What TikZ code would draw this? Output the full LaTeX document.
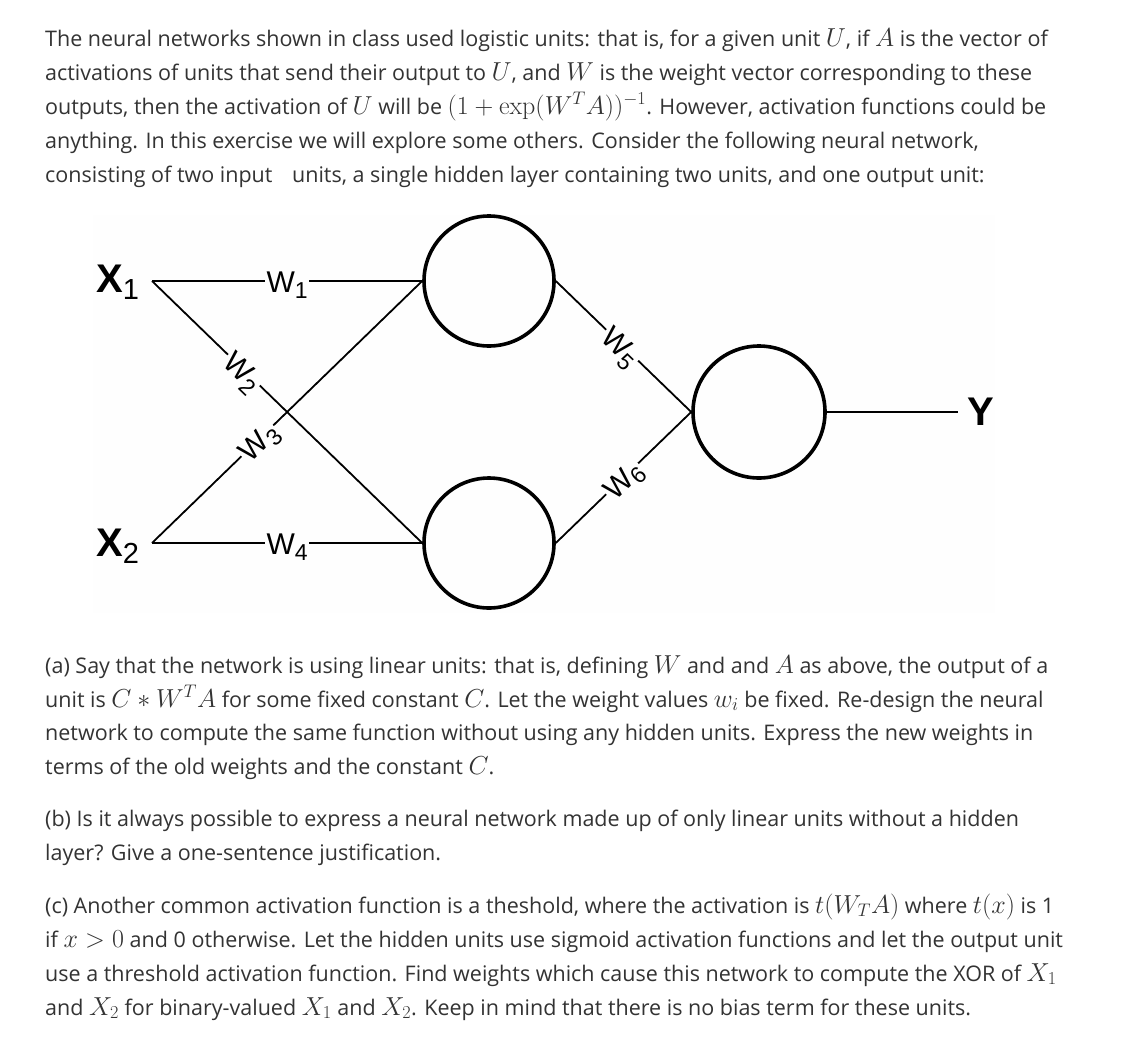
\RequirePackage{fix-cm}
\documentclass[tikz,border=0pt]{standalone}
\usepackage[no-math]{fontspec}
\setmainfont{Open Sans}
\newfontfamily\diagfont{Liberation Sans}
\usetikzlibrary{positioning}
\definecolor{txtgray}{RGB}{51,51,51}
\definecolor{diagbg}{RGB}{254,254,254}
\newcommand{\mth}[1]{{\fontsize{26}{26}\selectfont$#1$}}
\newcommand{\wsub}[1]{W\raisebox{-6pt}{\fontsize{23}{23}\selectfont #1}}
\newcommand{\xsub}[2]{{\bfseries #1}\raisebox{-7pt}{\fontsize{29}{29}\selectfont #2}}

\begin{document}
\begin{tikzpicture}[x=1pt, y=-1pt,
    textline/.style={anchor=base west, inner sep=0pt, text=txtgray, font=\fontsize{21.5}{24}\selectfont},
    unit/.style={circle, draw, line width=3.6pt, minimum size=130pt, inner sep=0pt},
    link/.style={line width=1.8pt},
    weight/.style={sloped, fill=diagbg, inner sep=1.5pt, text height=29pt, text depth=6pt, font=\diagfont\fontsize{30}{30}\selectfont},
    iolabel/.style={anchor=base west, inner sep=0pt, font=\diagfont\fontsize{40}{40}\selectfont}]
\useasboundingbox (0,0) rectangle (1139,1049);
\fill[white] (0,0) rectangle (1139,1049);

% Introduction
\node[textline] (intro1) at (45,46) {The neural networks shown in class used logistic units: that is, for a given unit \mth{U}, if \mth{A} is the vector of};
\node[textline] (intro2) at (45,80) {activations of units that send their output to \mth{U}, and \mth{W} is the weight vector corresponding to these};
\node[textline] (intro3) at (45,114) {outputs, then the activation of \mth{U} will be \mth{(1+\exp(W^TA))^{-1}}. However, activation functions could be};
\node[textline] (intro4) at (45,148) {anything. In this exercise we will explore some others. Consider the following neural network,};
\node[textline] (intro5) at (45,182) {consisting of two input\hspace{14pt} units, a single hidden layer containing two units, and one output unit:};

% Network
\fill[diagbg] (93,215) rectangle (995,613);
\node[unit] (hid1) at (489,281) {};
\node[unit] (hid2) at (489,543) {};
\node[unit, minimum size=132pt] (out) at (759,412) {};
\coordinate (in1) at (152,281);
\coordinate (in2) at (152,543);
\coordinate (yend) at (958,412);
\node[iolabel] (in1lab) at (96,292) {\xsub{X}{1}};
\node[iolabel] (in2lab) at (96,556) {\xsub{X}{2}};
\node[iolabel] (outlab) at (967,425) {\bfseries Y};

% Connections
\draw[link] (in1) -- node[weight] {\wsub{1}} (hid1.west);
\draw[link] (in1) -- node[weight, pos=0.34] {\wsub{2}} (hid2.west);
\draw[link] (in2) -- node[weight, pos=0.39] {\wsub{3}} (hid1.west);
\draw[link] (in2) -- node[weight] {\wsub{4}} (hid2.west);
\draw[link] (hid1.east) -- node[weight, pos=0.49] {\wsub{5}} (out.west);
\draw[link] (hid2.east) -- node[weight, pos=0.49] {\wsub{6}} (out.west);
\draw[link] (out.east) -- (yend);

% Questions
\node[textline] (qa1) at (45,673) {(a) Say that the network is using linear units: that is, defining \mth{W} and and \mth{A} as above, the output of a};
\node[textline] (qa2) at (45,707) {unit is \mth{C*W^TA} for some fixed constant \mth{C}. Let the weight values \mth{w_i} be fixed. Re-design the neural};
\node[textline] (qa3) at (45,740) {network to compute the same function without using any hidden units. Express the new weights in};
\node[textline] (qa4) at (45,774) {terms of the old weights and the constant \mth{C}.};

\node[textline] (qb1) at (45,826) {(b) Is it always possible to express a neural network made up of only linear units without a hidden};
\node[textline] (qb2) at (45,860) {layer? Give a one-sentence justification.};

\node[textline] (qc1) at (45,913) {(c) Another common activation function is a theshold, where the activation is \mth{t(W_TA)} where \mth{t(x)} is 1};
\node[textline] (qc2) at (45,947) {if \mth{x>0} and 0 otherwise. Let the hidden units use sigmoid activation functions and let the output unit};
\node[textline] (qc3) at (45,981) {use a threshold activation function. Find weights which cause this network to compute the XOR of \mth{X_1}};
\node[textline] (qc4) at (45,1015) {and \mth{X_2} for binary-valued \mth{X_1} and \mth{X_2}. Keep in mind that there is no bias term for these units.};
\end{tikzpicture}
\end{document}
